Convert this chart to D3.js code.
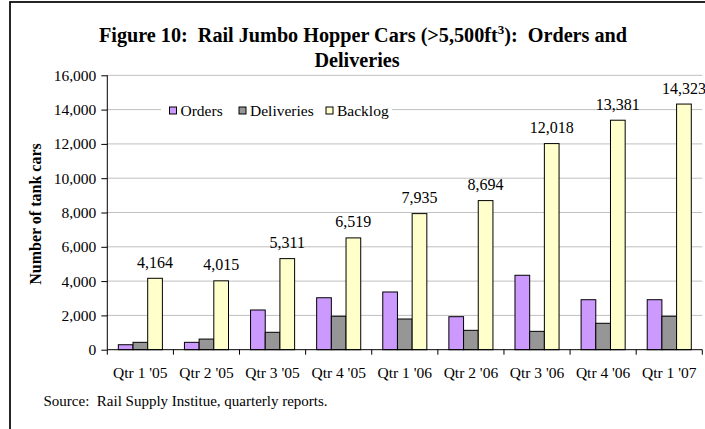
<!DOCTYPE html>
<html>
<head>
<meta charset="utf-8">
<script src="https://cdn.jsdelivr.net/npm/d3@7"></script>
<style>
  body { margin: 0; background: #fff; }
  svg { display: block; font-family: "Liberation Serif", "Times New Roman", serif; }
</style>
</head>
<body>
<div class="interactive-wrapper"></div>
<script>
const quarters = ["Qtr 1 '05", "Qtr 2 '05", "Qtr 3 '05", "Qtr 4 '05", "Qtr 1 '06", "Qtr 2 '06", "Qtr 3 '06", "Qtr 4 '06", "Qtr 1 '07"];
const orders = [290, 430, 2315, 3030, 3365, 1925, 4340, 2915, 2915];
const deliveries = [430, 620, 1015, 1950, 1790, 1130, 1070, 1540, 1950];
const backlog = [4164, 4015, 5311, 6519, 7935, 8694, 12018, 13381, 14323];
const seriesNames = ['Orders', 'Deliveries', 'Backlog'];
const seriesColors = ['#cc99ff', '#969696', '#ffffcc'];
const yTicks = [0, 2000, 4000, 6000, 8000, 10000, 12000, 14000, 16000];

const width = 705;
const height = 429;

const svg = d3.select('.interactive-wrapper').append('svg')
  .attr('width', width)
  .attr('height', height);

// outer frame
svg.append('rect')
  .attr('x', 10).attr('y', 2)
  .attr('width', 800).attr('height', 500)
  .attr('fill', '#fff')
  .attr('stroke', '#000')
  .attr('stroke-width', 1.7);

const plotLeft = 107.3, plotRight = 702.3, plotTop = 75.3, plotBottom = 349.7;

const x0 = d3.scaleBand()
  .domain(quarters)
  .range([plotLeft, plotRight]);

const bw = x0.bandwidth();

const x1 = d3.scaleBand()
  .domain(seriesNames)
  .range([bw / 6, bw - bw / 6]);

const y = d3.scaleLinear()
  .domain([0, 16000])
  .range([plotBottom, plotTop]);

// gridlines
svg.append('g')
  .selectAll('line')
  .data(yTicks.slice(1))
  .join('line')
  .attr('x1', plotLeft).attr('x2', plotRight)
  .attr('y1', d => y(d)).attr('y2', d => y(d))
  .attr('stroke', '#c0c0c0')
  .attr('stroke-width', 1);

// title
const title = svg.append('text')
  .attr('text-anchor', 'middle')
  .attr('font-weight', 'bold')
  .attr('font-size', 20.2)
  .style('white-space', 'pre');

title.append('tspan')
  .attr('x', 363).attr('y', 42)
  .text('Figure 10:  Rail Jumbo Hopper Cars (>5,500ft');
title.append('tspan')
  .attr('font-size', 13)
  .attr('dy', -8)
  .text('3');
title.append('tspan')
  .attr('dy', 8)
  .text('):  Orders and');

svg.append('text')
  .attr('x', 357).attr('y', 67)
  .attr('text-anchor', 'middle')
  .attr('font-weight', 'bold')
  .attr('font-size', 20.2)
  .text('Deliveries');

// y axis title
svg.append('text')
  .attr('transform', 'translate(41,214) rotate(-90)')
  .attr('text-anchor', 'middle')
  .attr('font-weight', 'bold')
  .attr('font-size', 16)
  .text('Number of tank cars');

// legend
const legend = svg.append('g');

legend.append('rect')
  .attr('x', 161).attr('y', 101)
  .attr('width', 231).attr('height', 20)
  .attr('fill', '#fff');

const legendX = [169.5, 239, 326];

seriesNames.forEach((name, i) => {
  legend.append('rect')
    .attr('x', legendX[i]).attr('y', 107)
    .attr('width', 7).attr('height', 7)
    .attr('fill', seriesColors[i])
    .attr('stroke', '#000')
    .attr('stroke-width', 1);
  legend.append('text')
    .attr('x', legendX[i] + 11).attr('y', 116)
    .attr('font-size', 15.5)
    .text(name);
});

// bars
const table = quarters.map((q, i) => ({ q, values: [orders[i], deliveries[i], backlog[i]] }));

const groups = svg.append('g')
  .selectAll('g')
  .data(table)
  .join('g')
  .attr('transform', d => 'translate(' + x0(d.q) + ',0)');

groups.selectAll('rect')
  .data(d => d.values.map((v, i) => ({ name: seriesNames[i], value: v, color: seriesColors[i] })))
  .join('rect')
  .attr('x', d => x1(d.name))
  .attr('width', x1.bandwidth())
  .attr('y', d => y(d.value))
  .attr('height', d => y(0) - y(d.value))
  .attr('fill', d => d.color)
  .attr('stroke', '#000')
  .attr('stroke-width', 1);

// backlog labels
groups.append('text')
  .attr('x', d => x1('Backlog') + x1.bandwidth() / 2)
  .attr('y', d => y(d.values[2]) - 10.5)
  .attr('text-anchor', 'middle')
  .attr('font-size', 16)
  .text(d => d3.format(',')(d.values[2]));

// y axis
const yAxis = svg.append('g')
  .attr('transform', 'translate(' + plotLeft + ',0)')
  .call(d3.axisLeft(y)
        .tickValues(yTicks)
        .tickSize(6)
        .tickPadding(5)
        .tickFormat(d3.format(','))
  );

yAxis.attr('font-family', null).attr('font-size', null);

yAxis.select('.domain')
  .attr('d', 'M0,' + plotTop + 'V' + plotBottom)
  .attr('stroke', '#000');

yAxis.selectAll('.tick text')
  .attr('font-size', 15.5)
  .attr('fill', '#000');

// x axis
const xAxis = svg.append('g')
  .attr('transform', 'translate(0,' + plotBottom + ')');

xAxis.append('line')
  .attr('x1', plotLeft).attr('x2', plotRight)
  .attr('stroke', '#000');

xAxis.selectAll('.sep')
  .data(quarters.concat(['end']))
  .join('line')
  .attr('class', 'sep')
  .attr('x1', (d, i) => i < quarters.length ? x0(d) : plotRight)
  .attr('x2', (d, i) => i < quarters.length ? x0(d) : plotRight)
  .attr('y1', 0).attr('y2', 5)
  .attr('stroke', '#000');

xAxis.selectAll('.cat')
  .data(quarters)
  .join('text')
  .attr('class', 'cat')
  .attr('x', d => x0(d) + bw / 2)
  .attr('y', 28)
  .attr('text-anchor', 'middle')
  .attr('font-size', 15.5)
  .text(d => d);

// source
svg.append('text')
  .attr('x', 43.5).attr('y', 406)
  .attr('font-size', 15)
  .style('white-space', 'pre')
  .text('Source:  Rail Supply Institue, quarterly reports.');
</script>
</body>
</html>
